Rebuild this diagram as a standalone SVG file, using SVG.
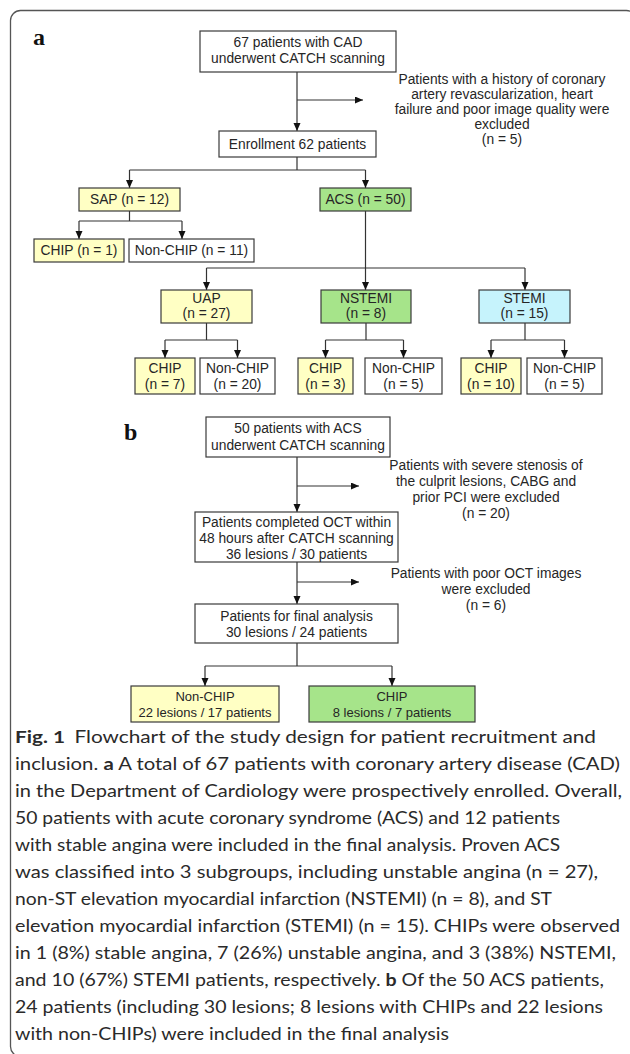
<svg xmlns="http://www.w3.org/2000/svg" width="630" height="1054" viewBox="0 0 630 1054">
<defs>
<style>
.frame{fill:none;stroke:#555;stroke-width:1.3}
.box{stroke:#3a3a3a;stroke-width:1.2}
.w{fill:#ffffff}
.y{fill:#ffffc4}
.g{fill:#a6e48a}
.c{fill:#c6f3fc}
.t{font-family:"Liberation Sans",Arial,sans-serif;font-size:13.8px;fill:#262626;text-anchor:middle}
.s{font-size:13px}
.lbl{font-family:"Liberation Serif","Times New Roman",serif;font-size:24px;font-weight:bold;fill:#111}
.cap{font-family:Lato,"Open Sans",sans-serif;font-size:17.5px;fill:#2a2a2a}
.con path{fill:none;stroke:#333;stroke-width:1.2}
.con .ar{marker-end:url(#arr)}
</style>
<marker id="arr" markerUnits="userSpaceOnUse" markerWidth="8" markerHeight="8" refX="8" refY="3.5" orient="auto">
<path d="M0,0 L8,3.5 L0,7 z" fill="#111"/>
</marker>
</defs>
<rect width="630" height="1054" fill="#ffffff"/>
<rect class="frame" x="10.5" y="10.5" width="626" height="1046" rx="10"/>

<text class="lbl" x="33" y="45">a</text>
<text class="lbl" x="124" y="440">b</text>

<g class="con">
<path class="ar" d="M297,72 V131"/>
<path class="ar" d="M297,100 H363"/>
<path d="M297,157 V170 M129.5,170 H365.5"/>
<path class="ar" d="M129.5,170 V188"/>
<path class="ar" d="M365.5,170 V188"/>
<path d="M129.5,211 V221 M79,221 H182"/>
<path class="ar" d="M79,221 V239"/>
<path class="ar" d="M182,221 V239"/>
<path class="ar" d="M365.5,211 V290"/>
<path d="M206.5,268 H525"/>
<path class="ar" d="M206.5,268 V290"/>
<path class="ar" d="M525,268 V290"/>
<path d="M206.5,323 V340 M165,340 H237.5"/>
<path class="ar" d="M165,340 V358"/>
<path class="ar" d="M237.5,340 V358"/>
<path d="M366,323 V340 M325.5,340 H403.5"/>
<path class="ar" d="M325.5,340 V358"/>
<path class="ar" d="M403.5,340 V358"/>
<path d="M525,323 V340 M491,340 H564.5"/>
<path class="ar" d="M491,340 V358"/>
<path class="ar" d="M564.5,340 V358"/>
<path class="ar" d="M297,457 V512"/>
<path class="ar" d="M297,486 H359"/>
<path class="ar" d="M297,562 V604"/>
<path class="ar" d="M297,582 H359"/>
<path d="M297,643 V666 M205,666 H392"/>
<path class="ar" d="M205,666 V686"/>
<path class="ar" d="M392,666 V686"/>
</g>

<g id="n-start">
<rect class="box w" x="200" y="31" width="196" height="41"/>
<text class="t" x="298" y="47">67 patients with CAD</text>
<text class="t" x="298" y="63">underwent CATCH scanning</text>
</g>
<g id="n-excl-a">
<text class="t" x="502" y="84">Patients with a history of coronary</text>
<text class="t" x="502" y="99">artery revascularization,  heart</text>
<text class="t" x="502" y="114">failure and poor image quality were</text>
<text class="t" x="502" y="129">excluded</text>
<text class="t" x="502" y="144">(n = 5)</text>
</g>
<g id="n-enroll">
<rect class="box w" x="219" y="131" width="157" height="26"/>
<text class="t" x="297.5" y="149">Enrollment 62 patients</text>
</g>
<g id="n-sap">
<rect class="box y" x="79" y="188" width="101" height="23"/>
<text class="t" x="129.5" y="204">SAP (n = 12)</text>
</g>
<g id="n-acs">
<rect class="box g" x="320" y="188" width="91" height="23"/>
<text class="t" x="365.5" y="204">ACS (n = 50)</text>
</g>
<g id="n-sap-chip">
<rect class="box y" x="34" y="239" width="90" height="23"/>
<text class="t" x="79" y="255">CHIP (n = 1)</text>
</g>
<g id="n-sap-non">
<rect class="box w" x="129" y="239" width="125" height="23"/>
<text class="t" x="191.5" y="255">Non-CHIP (n = 11)</text>
</g>
<g id="n-uap">
<rect class="box y" x="161" y="290" width="91" height="33"/>
<text class="t" x="206.5" y="303">UAP</text>
<text class="t" x="206.5" y="318">(n = 27)</text>
</g>
<g id="n-nstemi">
<rect class="box g" x="321" y="290" width="90" height="33"/>
<text class="t" x="366" y="303">NSTEMI</text>
<text class="t" x="366" y="318">(n = 8)</text>
</g>
<g id="n-stemi">
<rect class="box c" x="479" y="290" width="91" height="33"/>
<text class="t" x="524.5" y="303">STEMI</text>
<text class="t" x="524.5" y="318">(n = 15)</text>
</g>
<g id="n-uap-chip">
<rect class="box y" x="135" y="358" width="60" height="36"/>
<text class="t" x="165" y="373">CHIP</text>
<text class="t" x="165" y="389">(n = 7)</text>
</g>
<g id="n-uap-non">
<rect class="box w" x="200" y="358" width="75" height="36"/>
<text class="t" x="237.5" y="373">Non-CHIP</text>
<text class="t" x="237.5" y="389">(n = 20)</text>
</g>
<g id="n-nstemi-chip">
<rect class="box y" x="298" y="358" width="55" height="36"/>
<text class="t" x="325.5" y="373">CHIP</text>
<text class="t" x="325.5" y="389">(n = 3)</text>
</g>
<g id="n-nstemi-non">
<rect class="box w" x="365" y="358" width="77" height="36"/>
<text class="t" x="403.5" y="373">Non-CHIP</text>
<text class="t" x="403.5" y="389">(n = 5)</text>
</g>
<g id="n-stemi-chip">
<rect class="box y" x="461" y="358" width="60" height="36"/>
<text class="t" x="491" y="373">CHIP</text>
<text class="t" x="491" y="389">(n = 10)</text>
</g>
<g id="n-stemi-non">
<rect class="box w" x="527" y="358" width="75" height="36"/>
<text class="t" x="564.5" y="373">Non-CHIP</text>
<text class="t" x="564.5" y="389">(n = 5)</text>
</g>

<g id="n-b-start">
<rect class="box w" x="206" y="417" width="184" height="40"/>
<text class="t" x="298" y="433">50 patients with ACS</text>
<text class="t" x="298" y="450">underwent CATCH scanning</text>
</g>
<g id="n-excl-b1">
<text class="t" x="486" y="470">Patients with severe stenosis of</text>
<text class="t" x="486" y="486">the culprit lesions, CABG and</text>
<text class="t" x="486" y="502">prior PCI were excluded</text>
<text class="t" x="486" y="518">(n = 20)</text>
</g>
<g id="n-oct">
<rect class="box w" x="195" y="512" width="203" height="50"/>
<text class="t" x="296.5" y="527">Patients completed OCT within</text>
<text class="t" x="296.5" y="543">48 hours after CATCH scanning</text>
<text class="t" x="296.5" y="559">36 lesions / 30 patients</text>
</g>
<g id="n-excl-b2">
<text class="t" x="486" y="578">Patients with poor OCT images</text>
<text class="t" x="486" y="594">were excluded</text>
<text class="t" x="486" y="610">(n = 6)</text>
</g>
<g id="n-final">
<rect class="box w" x="195" y="604" width="203" height="39"/>
<text class="t" x="296.5" y="621">Patients for final analysis</text>
<text class="t" x="296.5" y="637">30 lesions / 24 patients</text>
</g>
<g id="n-b-non">
<rect class="box y" x="131" y="686" width="148" height="36"/>
<text class="t s" x="205" y="701">Non-CHIP</text>
<text class="t s" x="205" y="717">22 lesions / 17 patients</text>
</g>
<g id="n-b-chip">
<rect class="box g" x="309" y="686" width="166" height="36"/>
<text class="t s" x="392" y="701">CHIP</text>
<text class="t s" x="392" y="717">8 lesions / 7 patients</text>
</g>

<g id="caption" class="cap">
<text x="15" y="743" textLength="581" lengthAdjust="spacingAndGlyphs"><tspan font-weight="bold">Fig. 1</tspan><tspan dx="8">Flowchart of the study design for patient recruitment and</tspan></text>
<text x="15" y="770" textLength="605" lengthAdjust="spacingAndGlyphs">inclusion. <tspan font-weight="bold">a</tspan> A total of 67 patients with coronary artery disease (CAD)</text>
<text x="15" y="797" textLength="607" lengthAdjust="spacingAndGlyphs">in the Department of Cardiology were prospectively enrolled. Overall,</text>
<text x="15" y="824" textLength="545" lengthAdjust="spacingAndGlyphs">50 patients with acute coronary syndrome (ACS) and 12 patients</text>
<text x="15" y="851" textLength="545" lengthAdjust="spacingAndGlyphs">with stable angina were included in the final analysis. Proven ACS</text>
<text x="15" y="878" textLength="583" lengthAdjust="spacingAndGlyphs">was classified into 3 subgroups, including unstable angina (n = 27),</text>
<text x="15" y="905" textLength="537" lengthAdjust="spacingAndGlyphs">non-ST elevation myocardial infarction (NSTEMI) (n = 8), and ST</text>
<text x="15" y="932" textLength="605" lengthAdjust="spacingAndGlyphs">elevation myocardial infarction (STEMI) (n = 15). CHIPs were observed</text>
<text x="15" y="959" textLength="601" lengthAdjust="spacingAndGlyphs">in 1 (8%) stable angina, 7 (26%) unstable angina, and 3 (38%) NSTEMI,</text>
<text x="15" y="986" textLength="589" lengthAdjust="spacingAndGlyphs">and 10 (67%) STEMI patients, respectively. <tspan font-weight="bold">b</tspan> Of the 50 ACS patients,</text>
<text x="15" y="1013" textLength="588" lengthAdjust="spacingAndGlyphs">24 patients (including 30 lesions; 8 lesions with CHIPs and 22 lesions</text>
<text x="15" y="1040" textLength="434" lengthAdjust="spacingAndGlyphs">with non-CHIPs) were included in the final analysis</text>
</g>
</svg>
